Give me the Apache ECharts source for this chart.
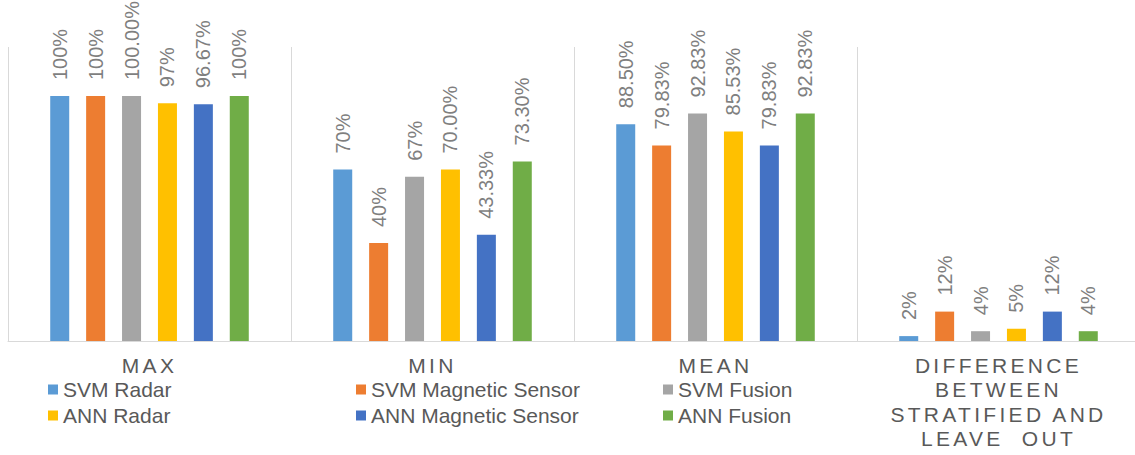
<!DOCTYPE html>
<html>
<head>
<meta charset="utf-8">
<script src="https://cdn.jsdelivr.net/npm/echarts@6/dist/echarts.min.js"></script>
<style>
  html, body { margin: 0; padding: 0; background: #ffffff; }
  #chart { width: 1135px; height: 455px; }
  /* spaced-out capitals for the category names */
  #chart text[style*="Liberation Sans"] { letter-spacing: 3.3px; white-space: pre; }
</style>
</head>
<body>
<div id="chart"></div>
<script>
// Category names (line breaks as they wrap under the axis)
const categories = ['MAX', 'MIN', 'MEAN', 'DIFFERENCE\nBETWEEN\nSTRATIFIED AND\nLEAVE  OUT'];

// Accuracy values in percent, written with the decimals shown on the labels
const svmRadar    = ['100',    '70',    '88.50', '2'];
const svmMagnetic = ['100',    '40',    '79.83', '12'];
const svmFusion   = ['100.00', '67',    '92.83', '4'];
const annRadar    = ['97',     '70.00', '85.53', '5'];
const annMagnetic = ['96.67',  '43.33', '79.83', '12'];
const annFusion   = ['100',    '73.30', '92.83', '4'];

const seriesNames  = ['SVM Radar', 'SVM Magnetic Sensor', 'SVM Fusion', 'ANN Radar', 'ANN Magnetic Sensor', 'ANN Fusion'];
const seriesValues = [svmRadar, svmMagnetic, svmFusion, annRadar, annMagnetic, annFusion];
const seriesColors = ['#5B9BD5', '#ED7D31', '#A5A5A5', '#FFC000', '#4472C4', '#70AD47'];

const chart = echarts.init(document.getElementById('chart'), null, { renderer: 'svg' });

const series = seriesNames.map((name, i) => ({
  name: name,
  type: 'bar',
  barWidth: 19,
  barGap: '89%',
  itemStyle: { color: seriesColors[i] },
  data: seriesValues[i].map(v => ({ value: parseFloat(v), text: v })),
  label: {
    show: true,
    position: 'top',
    rotate: 90,
    align: 'left',
    verticalAlign: 'middle',
    distance: 16,
    color: '#7f7f7f',
    fontFamily: 'Arial',
    fontSize: 20,
    formatter: p => p.data.text + '%'
  }
}));

const legendBase = {
  orient: 'vertical',
  top: 379,
  padding: 0,
  itemGap: 5,
  itemWidth: 10,
  itemHeight: 10,
  icon: 'rect',
  textStyle: { color: '#595959', fontFamily: 'Arial', fontSize: 21, lineHeight: 21 }
};

chart.setOption({
  animation: false,
  backgroundColor: '#ffffff',
  legend: [
    Object.assign({}, legendBase, { left: 48,  data: ['SVM Radar', 'ANN Radar'] }),
    Object.assign({}, legendBase, { left: 356, data: ['SVM Magnetic Sensor', 'ANN Magnetic Sensor'] }),
    Object.assign({}, legendBase, { left: 663, data: ['SVM Fusion', 'ANN Fusion'] })
  ],
  // the last category runs slightly past the right edge of the canvas
  grid: { left: 8, width: 1132, top: 47, height: 294, containLabel: false, outerBoundsMode: 'none' },
  xAxis: {
    type: 'category',
    data: categories,
    axisLine: { lineStyle: { color: '#d9d9d9', width: 1 } },
    axisTick: { show: false },
    splitLine: { show: true, lineStyle: { color: '#d9d9d9', width: 1 } },
    axisLabel: {
      interval: 0,
      margin: 12,
      color: '#595959',
      fontFamily: 'Liberation Sans',
      fontSize: 21,
      lineHeight: 24.5
    }
  },
  yAxis: {
    type: 'value',
    min: 0,
    max: 120,
    show: false,
    splitLine: { show: false }
  },
  series: series
});
</script>
</body>
</html>
